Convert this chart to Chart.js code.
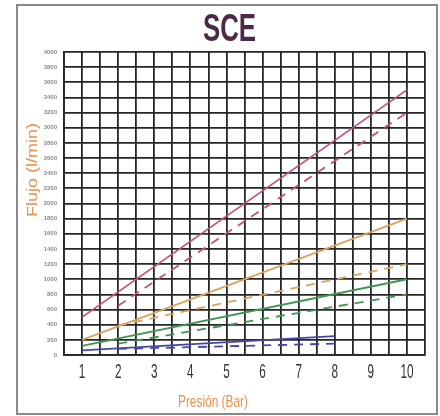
<!DOCTYPE html>
<html>
<head>
<meta charset="utf-8">
<script src="https://cdn.jsdelivr.net/npm/chart.js@4.4.0/dist/chart.umd.min.js"></script>
<style>
  html, body { margin: 0; padding: 0; background: #fff; }
  #wrap { width: 440px; height: 416px; position: relative; }
</style>
</head>
<body>
<div id="wrap"><canvas id="sce"></canvas></div>
<script>
// valores (Presion en bar, Flujo en l/min)
const yTicks = [0, 200, 400, 600, 800, 1000, 1200, 1400, 1600, 1800, 2000, 2200, 2400, 2600, 2800, 3000, 3200, 3400, 3600, 3800, 4000];
const xTicks = [1, 2, 3, 4, 5, 6, 7, 8, 9, 10];

const rosaX = [1, 10];
const rosaY = [500, 3500];
const rosaDashX = [2, 10];
const rosaDashY = [650, 3200];

const naranjaX = [1, 10];
const naranjaY = [200, 1800];
const naranjaDashX = [2, 10];
const naranjaDashY = [390, 1200];

const verdeX = [1, 10];
const verdeY = [120, 1000];
const verdeDashX = [2, 10];
const verdeDashY = [150, 800];

const azulX = [1, 8];
const azulY = [60, 250];
const azulDashX = [2, 8];
const azulDashY = [80, 150];

const titulo = "SCE";
const tituloX = "Presión (Bar)";
const tituloY = "Flujo (l/min)";

const pts = (xs, ys) => xs.map((x, i) => ({ x: x, y: ys[i] }));

function serie(xs, ys, color, dashed) {
  return {
    data: pts(xs, ys),
    borderColor: color,
    borderWidth: 1.8,
    borderDash: dashed ? [9, 7] : [],
    pointRadius: 0,
    fill: false,
    tension: 0
  };
}

// texto angosto: la fuente del original es condensada
function texto(c, str, x, y, font, color, sx, rot) {
  c.save();
  c.translate(x, y);
  if (rot) c.rotate(rot);
  c.scale(sx, 1);
  c.font = font;
  c.fillStyle = color;
  c.textAlign = "center";
  c.textBaseline = "alphabetic";
  c.fillText(str, 0, 0);
  c.restore();
}

const marco = {
  id: "marco",
  beforeDraw(chart) {
    const c = chart.ctx;
    c.save();
    c.fillStyle = "#fff";
    c.fillRect(0, 0, chart.width, chart.height);
    c.strokeStyle = "#8a8a8a";
    c.lineWidth = 2;
    c.strokeRect(17, 5, 420, 409);
    c.restore();
  },
  afterDraw(chart) {
    const c = chart.ctx;
    const sx = chart.scales.x;
    const area = chart.chartArea;
    const mid = (area.left + area.right) / 2;
    texto(c, titulo, mid - 15, 41, "bold 38px 'Liberation Sans', Arial, sans-serif", "#4b2a47", 0.68, 0);
    xTicks.forEach(v => {
      texto(c, String(v), sx.getPixelForValue(v), 378, "21px 'Liberation Sans', Arial, sans-serif", "#333", 0.56, 0);
    });
    texto(c, tituloX, 213, 407, "17px 'Liberation Sans', Arial, sans-serif", "#e8914c", 0.7, 0);
    // eje y: rotado, estirado en el sentido de lectura
    c.save();
    c.translate(37, 170);
    c.rotate(-Math.PI / 2);
    c.scale(1.2, 1);
    c.font = "15px 'Liberation Sans', Arial, sans-serif";
    c.fillStyle = "#e8914c";
    c.textAlign = "center";
    c.fillText(tituloY, 0, 0);
    c.restore();
  }
};

const chart = new Chart(document.querySelector("#sce"), {
  type: "line",
  data: {
    datasets: [
      serie(rosaX, rosaY, "#c4507c", false),
      serie(rosaDashX, rosaDashY, "#c4507c", true),
      serie(naranjaX, naranjaY, "#dba25f", false),
      serie(naranjaDashX, naranjaDashY, "#dba25f", true),
      serie(verdeX, verdeY, "#3f9652", false),
      serie(verdeDashX, verdeDashY, "#3f9652", true),
      serie(azulX, azulY, "#4646a6", false),
      serie(azulDashX, azulDashY, "#4646a6", true)
    ]
  },
  options: {
    responsive: true,
    maintainAspectRatio: false,
    animation: false,
    layout: { padding: { left: 18, right: 15, top: 52, bottom: 6 } },
    plugins: {
      legend: { display: false },
      tooltip: { enabled: false },
      title: { display: false }
    },
    scales: {
      x: {
        type: "linear",
        min: 0.5,
        max: 10.5,
        afterFit: (s) => { s.height = 55; },
        afterBuildTicks: (s) => {
          const t = [];
          for (let v = 0.5; v <= 10.5; v += 0.5) t.push({ value: v });
          s.ticks = t;
        },
        ticks: { display: false },
        grid: { color: "#262626", lineWidth: 1.8, drawTicks: false },
        border: { color: "#262626", width: 1.8 }
      },
      y: {
        min: 0,
        max: 4000,
        afterFit: (s) => { s.width = 46; },
        afterBuildTicks: (s) => { s.ticks = yTicks.map(v => ({ value: v })); },
        ticks: {
          autoSkip: false,
          padding: 7,
          color: "#8a8a8a",
          font: { family: "'Liberation Sans', sans-serif", size: 6, weight: "bold" },
          callback: (v) => String(v)
        },
        grid: { color: "#262626", lineWidth: 1.8, drawTicks: false },
        border: { color: "#262626", width: 1.8 }
      }
    }
  },
  plugins: [marco]
});
</script>
</body>
</html>
